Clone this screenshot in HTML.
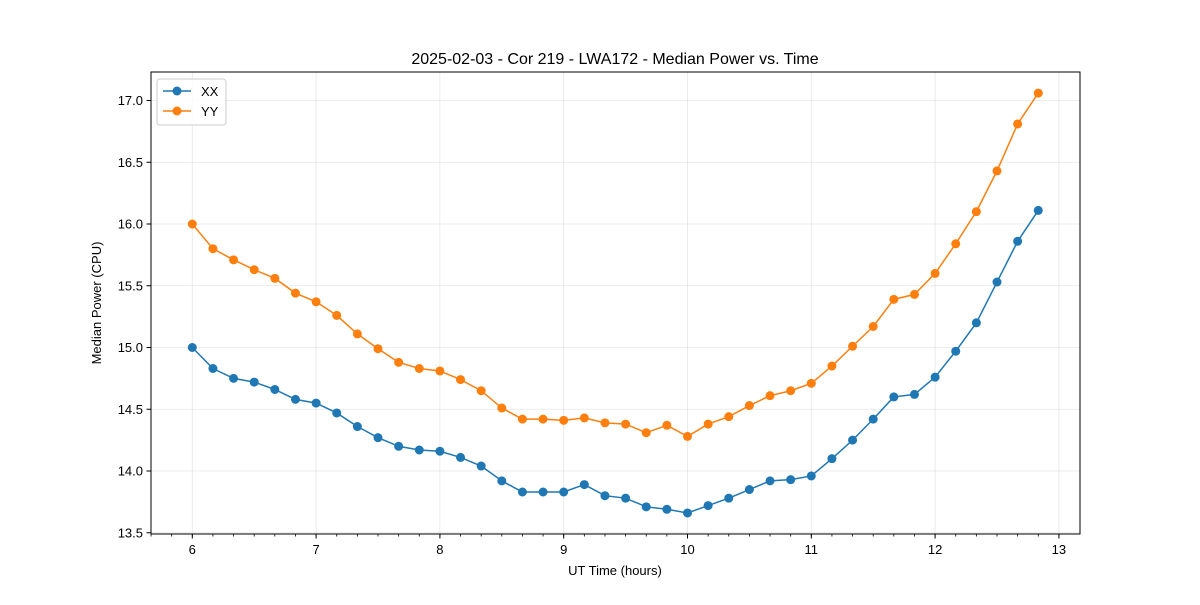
<!DOCTYPE html>
<html><head><meta charset="utf-8"><style>
body{margin:0;background:#fff}
svg{font-family:"Liberation Sans","DejaVu Sans",sans-serif}
</style></head><body>
<svg id="chart" width="1200" height="600" viewBox="0 0 1200 600">
<rect width="1200" height="600" fill="#fff"/>
<g id="grid"></g>
<g id="series"></g>
<rect x="151" y="72" width="929" height="462" fill="none" stroke="#000" stroke-width="1"/>
<g id="axes"></g>
<text x="615" y="64" text-anchor="middle" font-size="16">2025-02-03 - Cor 219 - LWA172 - Median Power vs. Time</text>
<text x="615" y="575" text-anchor="middle" font-size="13">UT Time (hours)</text>
<text transform="translate(101,303) rotate(-90)" text-anchor="middle" font-size="13">Median Power (CPU)</text>
<g>
<rect x="157" y="79" width="69" height="46" rx="3" fill="#fff" fill-opacity="0.8" stroke="#ccc"/>
<g>
<line x1="163" y1="91" x2="191" y2="91" stroke="#1f77b4" stroke-width="1.5"/><circle cx="177" cy="91" r="4.5" fill="#1f77b4"/>
<text x="201" y="96" font-size="13">XX</text></g>
<g>
<line x1="163" y1="111" x2="191" y2="111" stroke="#ff7f0e" stroke-width="1.5"/><circle cx="177" cy="111" r="4.5" fill="#ff7f0e"/>
<text x="201" y="116" font-size="13">YY</text></g>
</g>
</svg>
<script>
const xTicks=[6,7,8,9,10,11,12,13];
const yTicks=[13.5,14.0,14.5,15.0,15.5,16.0,16.5,17.0];
const xx=[15.00,14.83,14.75,14.72,14.66,14.58,14.55,14.47,14.36,14.27,14.20,14.17,14.16,14.11,14.04,13.92,13.83,13.83,13.83,13.89,13.80,13.78,13.71,13.69,13.66,13.72,13.78,13.85,13.92,13.93,13.96,14.10,14.25,14.42,14.60,14.62,14.76,14.97,15.20,15.53,15.86,16.11];
const yy=[16.00,15.80,15.71,15.63,15.56,15.44,15.37,15.26,15.11,14.99,14.88,14.83,14.81,14.74,14.65,14.51,14.42,14.42,14.41,14.43,14.39,14.38,14.31,14.37,14.28,14.38,14.44,14.53,14.61,14.65,14.71,14.85,15.01,15.17,15.39,15.43,15.60,15.84,16.10,16.43,16.81,17.06];
const times=xx.map((_,i)=>6+i/6);
const NS='http://www.w3.org/2000/svg';
const X=v=>192.3+(v-6)*123.8;
const Y=v=>224-(v-16)*123.5;
function mk(t,a,p){const e=document.createElementNS(NS,t);for(const k in a)e.setAttribute(k,a[k]);p.appendChild(e);return e;}
const grid=document.getElementById('grid'),axes=document.getElementById('axes'),ser=document.getElementById('series');
xTicks.forEach(t=>{
 const g=mk('line',{x1:X(t),x2:X(t),y1:72,y2:534,stroke:'#b0b0b0','stroke-opacity':0.3,'stroke-width':0.8},grid);
 
 
 mk('line',{x1:X(t),x2:X(t),y1:534,y2:538.5,stroke:'#000'},axes);
 const l=mk('text',{x:X(t),y:554,'text-anchor':'middle','font-size':13},axes);l.textContent=t;
 
 
});
for(let v=5.5;v<=13.1;v+=1/6){const px=X(v);if(px>151&&px<1080)mk('line',{x1:px,x2:px,y1:534,y2:536.5,stroke:'#000','stroke-width':0.8},axes);}
yTicks.forEach(t=>{
 const g=mk('line',{x1:151,x2:1080,y1:Y(t),y2:Y(t),stroke:'#b0b0b0','stroke-opacity':0.3,'stroke-width':0.8},grid);
 
 
 mk('line',{x1:146.5,x2:151,y1:Y(t),y2:Y(t),stroke:'#000'},axes);
 const l=mk('text',{x:143,y:Y(t)+4.5,'text-anchor':'end','font-size':13},axes);l.textContent=t.toFixed(1);
 
 
});
[[xx,'#1f77b4','xx'],[yy,'#ff7f0e','yy']].forEach(([d,c,n])=>{
 const p=mk('polyline',{points:d.map((v,i)=>X(times[i])+','+Y(v)).join(' '),fill:'none',stroke:c,'stroke-width':1.5},ser);
 
 
 d.forEach((v,i)=>{const m=mk('circle',{cx:X(times[i]),cy:Y(v),r:4.5,fill:c},ser);
  
  });
});
</script>
</body></html>
